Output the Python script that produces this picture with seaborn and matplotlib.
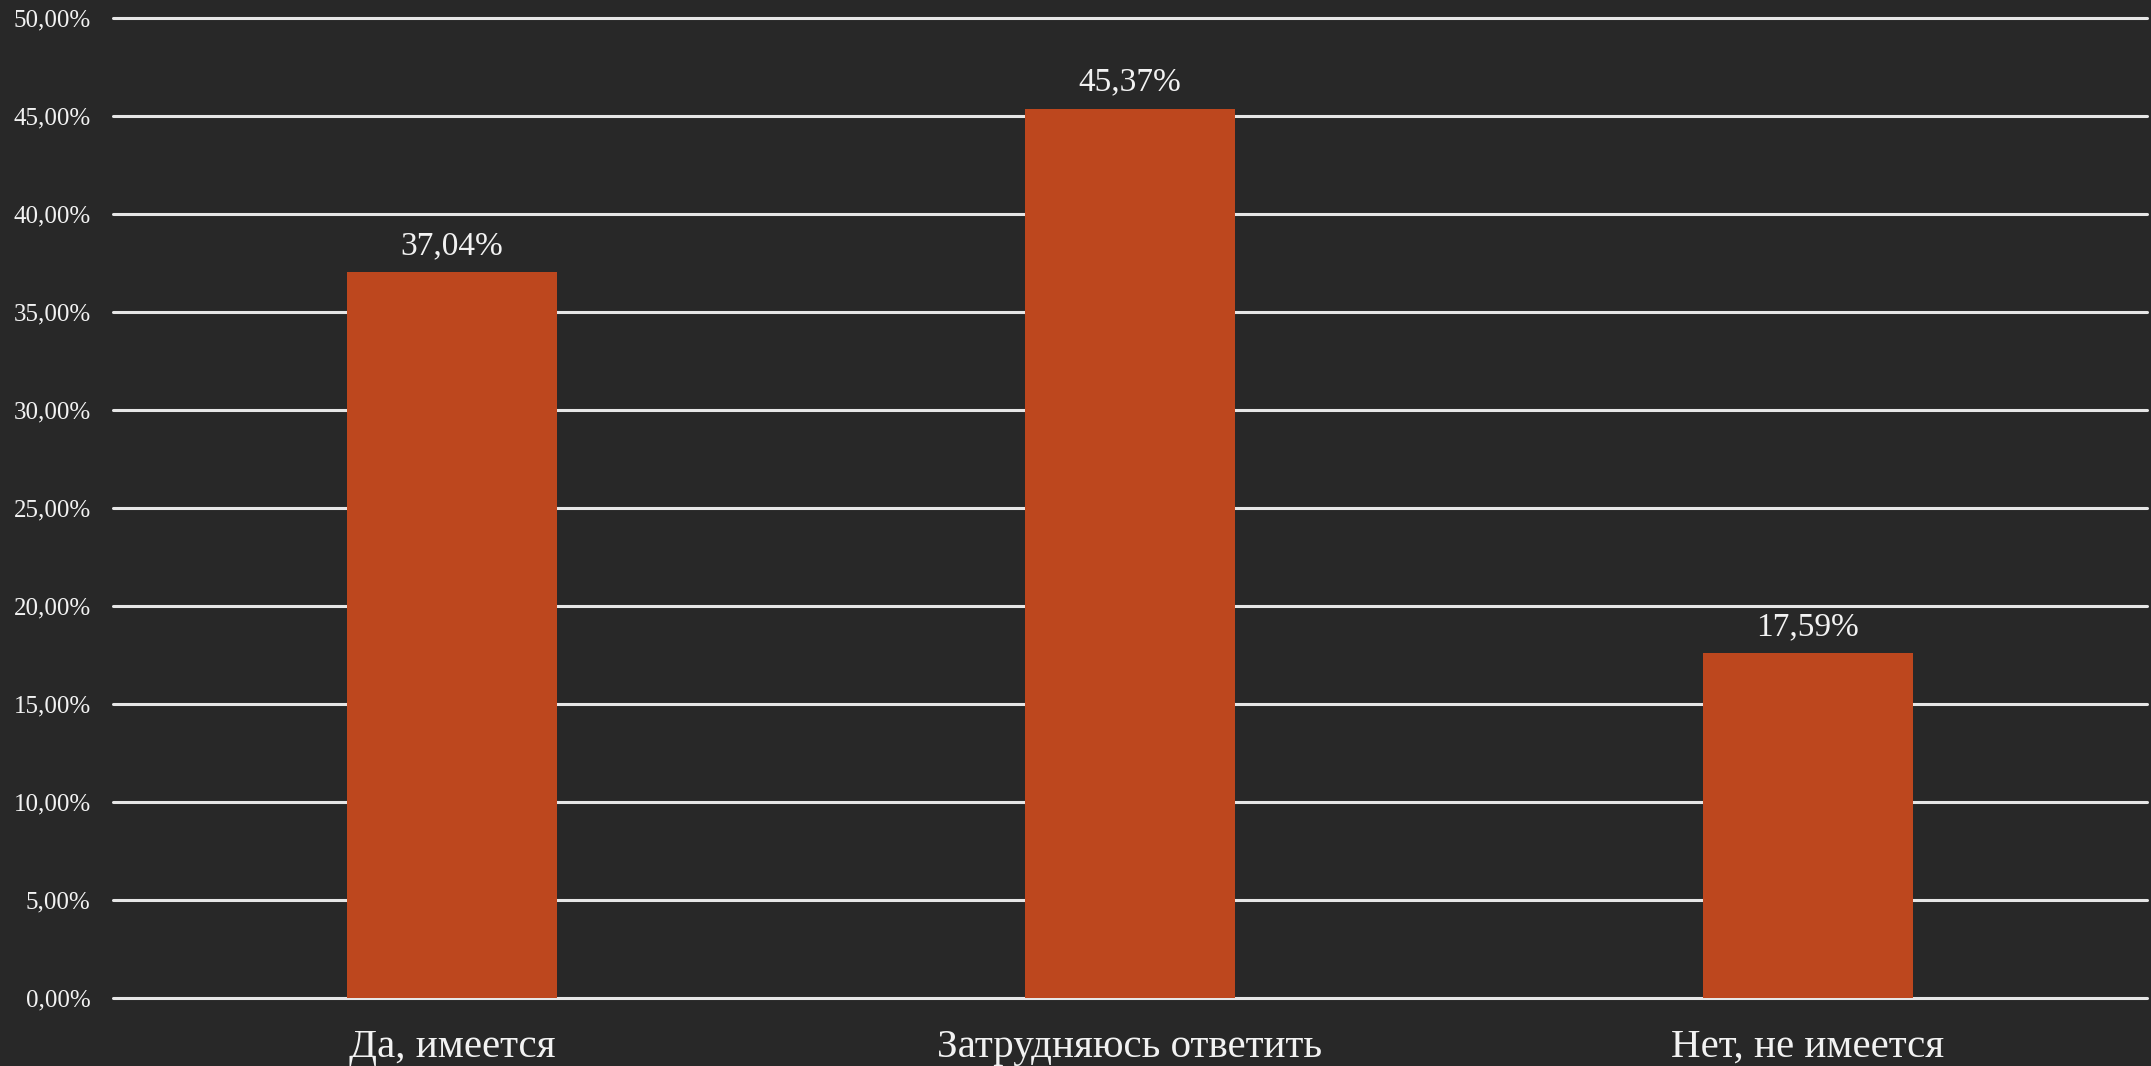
import matplotlib
matplotlib.use("Agg")
import matplotlib.pyplot as plt
import seaborn as sns
import pandas as pd

categories = ["Да, имеется", "Затрудняюсь ответить", "Нет, не имеется"]
values = [37.04, 45.37, 17.59]
y_ticks = [0, 5, 10, 15, 20, 25, 30, 35, 40, 45, 50]

sns.set_theme(style="dark")
plt.rcParams['font.family'] = ['Liberation Serif', 'DejaVu Serif']

BG = "#282828"
BAR = "#BD471E"
TXT = "#F2F2F2"

df = pd.DataFrame({"cat": categories, "val": values})

fig = plt.figure(figsize=(21.51, 10.66), dpi=100, facecolor=BG)
ax = fig.add_axes([0.0525, 0.0638, 0.9455, 0.9192])
ax.set_facecolor(BG)

sns.barplot(data=df, x="cat", y="val", color=BAR, width=0.31, ax=ax,
            saturation=1, edgecolor="none", zorder=3)

ax.set_ylim(0, 50)
ax.set_xlim(-0.5, 2.5)
ax.set_yticks(y_ticks)
ax.set_yticklabels([f"{t:.2f}".replace(".", ",") + "%" for t in y_ticks])
ax.grid(False)
for t in y_ticks:
    ax.axhline(t, color="#E6E6E6", linewidth=2.2, zorder=1, clip_on=False)
for s in ax.spines.values():
    s.set_visible(False)

ax.tick_params(axis="y", colors=TXT, labelsize=18, length=0, pad=16)
ax.tick_params(axis="x", colors=TXT, labelsize=29.5, length=0, pad=22)
ax.set_xlabel("")
ax.set_ylabel("")

for c in ax.containers:
    ax.bar_label(c, labels=[f"{v:.2f}".replace(".", ",") + "%" for v in values],
                 color=TXT, fontsize=24, padding=8)

fig.savefig("out.png", dpi=100, facecolor=BG)
